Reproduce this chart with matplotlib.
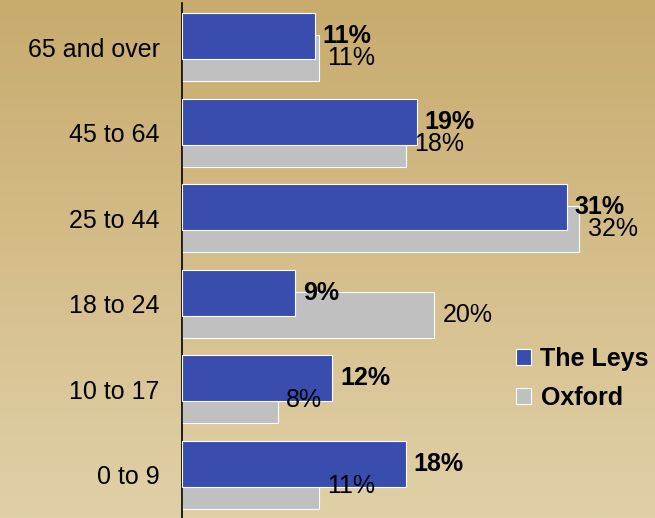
import numpy as np
import matplotlib
matplotlib.use("Agg")
import matplotlib.pyplot as plt
from matplotlib.patches import Patch
from matplotlib.colors import LinearSegmentedColormap

categories = ["65 and over", "45 to 64", "25 to 44", "18 to 24", "10 to 17", "0 to 9"]
leys = [10.7, 18.9, 31.0, 9.1, 12.1, 18.0]
oxford = [11.0, 18.0, 32.0, 20.3, 7.7, 11.0]
series_names = ["The Leys", "Oxford"]

plt.rcParams['font.family'] = ['Liberation Sans', 'DejaVu Sans']

BLUE = "#384DAE"
GREY = "#C0C0C0"
FS = 18

fig = plt.figure(figsize=(6.55, 5.18), dpi=100)

# background gradient
bg = fig.add_axes([0, 0, 1, 1], zorder=0)
cmap = LinearSegmentedColormap.from_list("bg", ["#C8AB6D", "#E1D0A7"])
grad = np.linspace(0, 1, 256).reshape(-1, 1)
bg.imshow(grad, aspect="auto", cmap=cmap, extent=[0, 1, 0, 1], origin="upper")
bg.set_axis_off()

W, H = 655, 518
px_per_unit_x = 12.42
xmax = 38
left = 182 / W
width = xmax * px_per_unit_x / W
spacing = 85.5
top_px = 3
ax_h_px = 6.03 * spacing
ax = fig.add_axes([left, 1 - (top_px + ax_h_px) / H, width, ax_h_px / H], zorder=1)
ax.patch.set_alpha(0)

y = np.arange(len(categories))
off = 11 / spacing
h = 46 / spacing

ax.barh(y + off, oxford, height=h, color=GREY, edgecolor="white", linewidth=0.8, zorder=2)
ax.barh(y - off, leys, height=h, color=BLUE, edgecolor="white", linewidth=0.8, zorder=3)

for yi, v in zip(y, leys):
    ax.annotate(f"{round(v)}%", (v, yi - off), xytext=(5.5, 0), textcoords="offset points",
                ha="left", va="center", fontsize=FS, fontweight="bold", zorder=5)
for yi, v in zip(y, oxford):
    ax.annotate(f"{round(v)}%", (v, yi + off), xytext=(6, 0), textcoords="offset points",
                ha="left", va="center", fontsize=FS, zorder=5)

ax.set_xlim(0, xmax)
ax.set_ylim(len(categories) - 1 + 0.515, -0.515)
ax.set_yticks(y)
ax.set_yticklabels(categories, fontsize=FS)
ax.tick_params(axis="y", length=0, pad=16)
ax.set_xticks([])
for s in ["top", "right", "bottom"]:
    ax.spines[s].set_visible(False)
ax.spines["left"].set_color("black")
ax.spines["left"].set_linewidth(1.2)

handles = [Patch(facecolor=BLUE, edgecolor="white", linewidth=0.8),
           Patch(facecolor=GREY, edgecolor="white", linewidth=0.8)]
leg = fig.legend(handles, series_names, loc="upper left", bbox_to_anchor=(516 / W, 1 - 347 / H),
                 frameon=False, prop={"weight": "bold", "size": FS}, handlelength=0.58,
                 handleheight=0.58, handletextpad=0.4, labelspacing=0.6, borderpad=0, borderaxespad=0)
leg.set_zorder(6)

fig.savefig("out.png", dpi=100)
